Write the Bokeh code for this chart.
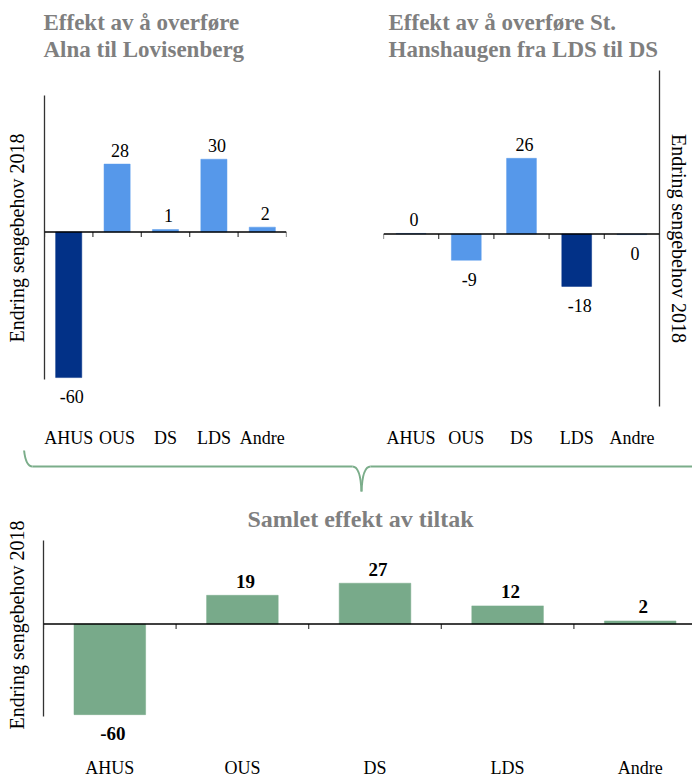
from bokeh.plotting import figure
from bokeh.models import Range1d, FixedTicker, Span, LabelSet, ColumnDataSource
from bokeh.layouts import column, row
from bokeh.embed import file_html
from bokeh.resources import INLINE
from bokeh.core.properties import value

# ---------------- data ----------------
categories = ["AHUS", "OUS", "DS", "LDS", "Andre"]
alna_values = [-60, 28, 1, 30, 2]          # Effekt av å overføre Alna til Lovisenberg
sth_values = [0.2, -9, 26, -18, -0.2]      # Effekt av å overføre St. Hanshaugen fra LDS til DS
total_values = [-60, 19, 27, 12, 2]        # Samlet effekt av tiltak
alna_from = "AHUS"
sth_from = "LDS"
title_alna = ["Effekt av å overføre", "Alna til Lovisenberg"]
title_sth = ["Effekt av å overføre St.", "Hanshaugen fra LDS til DS"]
title_total = "Samlet effekt av tiltak"
y_label = "Endring sengebehov 2018"

# ---------------- style ----------------
SERIF = "Liberation Serif"
DARK = "#023187"
LIGHT = "#5698EA"
GREEN = "#78AA8A"
BRACE = "#7BAD8A"
GREY = "#7F7F7F"
BAR_W = 0.54


def bar_panel(values, colors, *, width, height, borders, x_end, y_rng, axis_bounds, y_side,
              label_standoff, ylabel_standoff, bold_values, value_size):
    left, right, top, bottom = borders
    p = figure(width=width, height=height, title=None,
               x_range=Range1d(-0.5, x_end), y_range=Range1d(*y_rng),
               output_backend="svg", toolbar_location=None, frame_align=False,
               x_axis_location="below", y_axis_location=y_side,
               min_border_left=left, min_border_right=right,
               min_border_top=top, min_border_bottom=bottom)
    p.grid.visible = False
    p.outline_line_color = None

    xa = p.xaxis[0]
    xa.ticker = FixedTicker(ticks=list(range(len(categories))))
    xa.major_label_overrides = {i: c for i, c in enumerate(categories)}
    xa.axis_line_color = None
    xa.major_tick_line_color = None
    xa.minor_tick_line_color = None
    xa.major_tick_in = 0
    xa.major_tick_out = 0
    xa.major_label_standoff = label_standoff
    xa.major_label_text_font = SERIF
    xa.major_label_text_font_size = "18px"
    xa.major_label_text_color = "black"

    ya = p.yaxis[0]
    ya.ticker = FixedTicker(ticks=[])
    ya.bounds = axis_bounds
    ya.minor_tick_line_color = None
    ya.major_tick_line_color = None
    ya.major_tick_in = 0
    ya.major_tick_out = 0
    ya.major_label_standoff = 0
    ya.axis_line_color = "#333333"
    ya.axis_line_width = 1.3
    ya.axis_label = y_label
    ya.axis_label_standoff = ylabel_standoff
    ya.axis_label_text_font = SERIF
    ya.axis_label_text_font_size = "20px"
    ya.axis_label_text_font_style = "normal"
    ya.axis_label_text_color = "black"

    xs = list(range(len(values)))
    src = ColumnDataSource(dict(x=xs, v=values, color=colors))
    p.vbar(x="x", top="v", bottom=0, width=BAR_W, source=src,
           fill_color="color", line_color="color", line_width=0.5)

    # zero line with tick marks at category boundaries
    p.add_layout(Span(location=0, dimension="width", line_color="black", line_width=1.3))
    frame_h = height - top - bottom
    tick_len = 5 * (y_rng[1] - y_rng[0]) / frame_h
    bounds = [i - 0.5 for i in range(len(categories) + 1)]
    p.segment(x0=bounds, y0=[0] * len(bounds), x1=bounds, y1=[-tick_len] * len(bounds),
              line_color="#404040", line_width=1.2)

    # value labels
    style = "bold" if bold_values else "normal"
    for positive, dy in ((True, 14), (False, -19)):
        idx = [i for i, v in enumerate(values) if (v >= 0) == positive]
        lsrc = ColumnDataSource(dict(x=[xs[i] for i in idx], v=[values[i] for i in idx],
                                     t=[str(int(round(values[i]))) for i in idx]))
        p.add_layout(LabelSet(x="x", y="v", text="t", source=lsrc, x_offset=3, y_offset=dy,
                              text_align="center", text_baseline="middle",
                              text_font=value(SERIF), text_font_size=value(value_size),
                              text_font_style=style, text_color="black"))
    return p


def blank(width, height):
    f = figure(width=width, height=height, x_range=Range1d(0, width), y_range=Range1d(height, 0),
               output_backend="svg", toolbar_location=None, title=None, frame_align=False,
               x_axis_location=None, y_axis_location=None, min_border=0)
    f.grid.visible = False
    f.outline_line_color = None
    return f


# ---- header with the two upper titles (page y 0..62)
hd = blank(692, 62)
hd.text(x=[43, 43, 388, 388], y=[22, 49, 22, 49],
        text=[title_alna[0], title_alna[1], title_sth[0], title_sth[1]],
        text_font=value(SERIF), text_font_size=value("23px"), text_font_style="bold",
        text_color=GREY, text_align="left", text_baseline="middle")

# ---- top-left panel: canvas y 62..450, frame x 44..286, y 66..410; axis drawn 95..380
PX1 = 146 / 60
ZERO1 = 232
alna_colors = [DARK if c == alna_from else LIGHT for c in categories]
p1 = bar_panel(alna_values, alna_colors, width=346, height=388, borders=(44, 60, 4, 40),
               x_end=4.5, y_rng=(-(410 - ZERO1) / PX1, (ZERO1 - 66) / PX1),
               axis_bounds=(-(380 - ZERO1) / PX1, (ZERO1 - 95) / PX1), y_side="left",
               label_standoff=18, ylabel_standoff=17, bold_values=False, value_size="18px")

# ---- top-right panel: frame x 383..659, y 70..407
PX2 = 2.92
ZERO2 = 234
sth_colors = [DARK if c == sth_from else LIGHT for c in categories]
p2 = bar_panel(sth_values, sth_colors, width=346, height=388, borders=(37, 33, 8, 43),
               x_end=4.5, y_rng=(-(407 - ZERO2) / PX2, (ZERO2 - 70) / PX2),
               axis_bounds="auto", y_side="right",
               label_standoff=21, ylabel_standoff=8, bold_values=False, value_size="18px")

# ---- brace connecting the two upper panels to the total (page y 450..495)
B0 = 450
br = blank(692, 45)
br.quadratic(x0=[23, 352, 361], y0=[440 - B0, 466 - B0, 491 - B0],
             x1=[32, 361, 370], y1=[466 - B0, 491 - B0, 466 - B0],
             cx=[23.5, 360, 362], cy=[466 - B0] * 3, line_color=BRACE, line_width=2)
br.segment(x0=[32, 370], y0=[466 - B0] * 2, x1=[352, 692], y1=[466 - B0] * 2,
           line_color=BRACE, line_width=2)

# ---- bottom panel: canvas y 495..780, frame x 43..692, y 505..745; axis drawn 540..717
PX3 = 91 / 60
ZERO3 = 624
CAT3 = 132.6
total_colors = [GREEN for _ in categories]
p3 = bar_panel(total_values, total_colors, width=692, height=285, borders=(43, 0, 10, 35),
               x_end=-0.5 + 649 / CAT3,
               y_rng=(-(745 - ZERO3) / PX3, (ZERO3 - 505) / PX3),
               axis_bounds=(-(717 - ZERO3) / PX3, (ZERO3 - 540) / PX3), y_side="left",
               label_standoff=13, ylabel_standoff=16, bold_values=True, value_size="19px")
p3.text(x=[-0.5 + (360 - 43) / CAT3], y=[(ZERO3 - 519) / PX3], text=[title_total],
        text_font=value(SERIF), text_font_size=value("24px"), text_font_style="bold",
        text_color=GREY, text_align="center", text_baseline="middle")

layout = column(hd, row(p1, p2), br, p3)
open("out.html", "w").write(file_html(layout, INLINE))
